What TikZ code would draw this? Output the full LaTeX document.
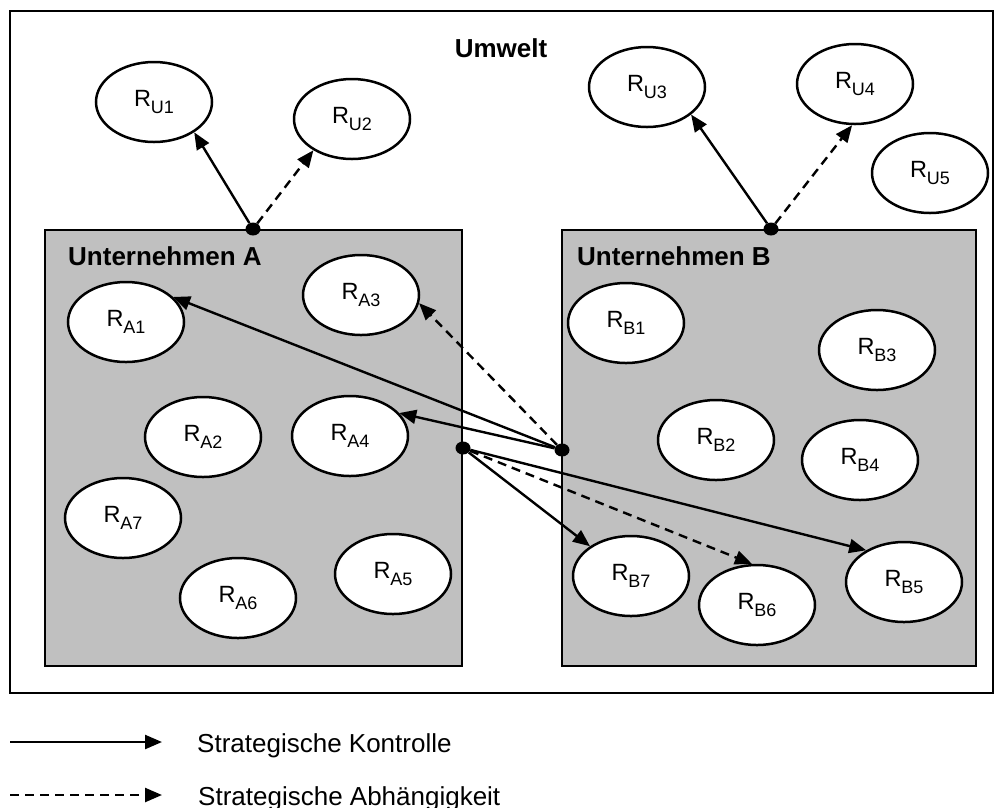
\documentclass[tikz,border=0pt]{standalone}
\usepackage{fontspec}
\setmainfont{Liberation Sans}
\usetikzlibrary{shapes.geometric,arrows.meta}
\definecolor{boxgray}{HTML}{C0C0C0}
% resource label: R with a subscript
\newcommand\reslabel[1]{{\fontsize{23.5}{25}\selectfont R}\raisebox{-7pt}{\fontsize{18}{19}\selectfont #1}}
\tikzset{
  res/.style={ellipse,draw,line width=2.5pt,fill=white,minimum width=116pt,minimum height=80pt,inner sep=0pt},
  firm/.style={draw,line width=2.7pt,fill=boxgray},
  hub/.style={ellipse,fill=black,minimum width=15pt,minimum height=13pt,inner sep=0pt},
  ctrl/.style={line width=2.4pt,-{Triangle[length=17pt,width=14pt]}},
  dep/.style={ctrl,dash pattern=on 9pt off 6pt},
  heading/.style={font=\fontsize{26}{30}\selectfont\bfseries},
  legendtext/.style={font=\fontsize{26}{30}\selectfont,anchor=base west,inner sep=0pt},
}
\begin{document}
\begin{tikzpicture}[x=1pt,y=-1pt]
\useasboundingbox (0,0) rectangle (1001,807);

% environment frame
\draw[line width=2.3pt] (10,11) rectangle (993,693);
\node[heading,anchor=base,inner sep=0pt] (umwelt) at (501,57) {Umwelt};

% the two companies
\draw[firm] (45,230) rectangle (462,666);
\draw[firm] (562,230) rectangle (976,666);
\node[heading,anchor=base west,inner sep=0pt] (ua) at (68,265) {Unternehmen A};
\node[heading,anchor=base west,inner sep=0pt] (ub) at (577,265) {Unternehmen B};

% environment resources
\node[res] (RU1) at (154,102) {\reslabel{U1}};
\node[res] (RU2) at (352,119) {\reslabel{U2}};
\node[res] (RU3) at (647,87) {\reslabel{U3}};
\node[res] (RU4) at (855,84) {\reslabel{U4}};
\node[res] (RU5) at (930,173) {\reslabel{U5}};

% resources of company A
\node[res] (RA1) at (126,322) {\reslabel{A1}};
\node[res] (RA3) at (361,295) {\reslabel{A3}};
\node[res] (RA2) at (203,437) {\reslabel{A2}};
\node[res] (RA4) at (350,436) {\reslabel{A4}};
\node[res] (RA7) at (123,518) {\reslabel{A7}};
\node[res] (RA6) at (238,598) {\reslabel{A6}};
\node[res] (RA5) at (393,574) {\reslabel{A5}};

% resources of company B
\node[res] (RB1) at (626,323) {\reslabel{B1}};
\node[res] (RB3) at (877,350) {\reslabel{B3}};
\node[res] (RB2) at (716,440) {\reslabel{B2}};
\node[res] (RB4) at (860,460) {\reslabel{B4}};
\node[res] (RB7) at (631,576) {\reslabel{B7}};
\node[res] (RB6) at (757,605) {\reslabel{B6}};
\node[res] (RB5) at (904,582) {\reslabel{B5}};

% junction points
\node[hub] (hA) at (253,229) {};
\node[hub] (hB) at (771,229) {};
\node[hub] (hL) at (463,448) {};
\node[hub] (hR) at (562,450) {};

% relations
\draw[ctrl] (hA) -- (RU1.-37);
\draw[dep]  (hA) -- (RU2.-141);
\draw[ctrl] (hB) -- (RU3.-32);
\draw[dep]  (hB) -- (RU4.-94);
\draw[ctrl] (hR) -- (RA1.28);
\draw[dep]  (hR) -- (RA3.-8);
\draw[ctrl] (hR) -- (RA4.25);
\draw[ctrl] (hL) -- (RB7.144);
\draw[dep]  (hL) -- (RB6.97);
\draw[ctrl] (hL) -- (RB5.140);

% legend
\coordinate (k1) at (10,742);
\coordinate (k2) at (162,742);
\coordinate (d1) at (10,795);
\coordinate (d2) at (162,795);
\draw[ctrl] (k1) -- (k2);
\draw[dep]  (d1) -- (d2);
\node[legendtext] (lk) at (197,752) {Strategische Kontrolle};
\node[legendtext] (ld) at (198,805) {Strategische Abhängigkeit};
\end{tikzpicture}
\end{document}
